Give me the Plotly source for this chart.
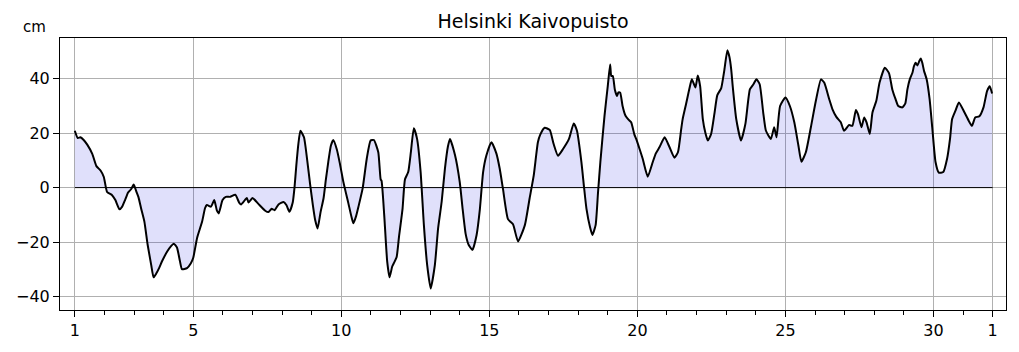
import plotly.graph_objects as go

# Time in days of the month (1 = first day 00:00, 32 = first day of next month)
days = [1.00, 1.10, 1.19, 1.30, 1.42, 1.59, 1.73, 1.87, 1.98, 2.09, 2.26, 2.37, 2.51, 2.60, 2.70, 2.80, 2.90, 2.99,
        3.08, 3.15, 3.24, 3.35, 3.46, 3.58, 3.66, 3.75, 3.85, 3.95, 4.12, 4.25, 4.34, 4.45, 4.55, 4.62, 4.79, 4.92,
        5.00, 5.13, 5.30, 5.40, 5.46, 5.60, 5.71, 5.80, 5.86, 5.99, 6.10, 6.25, 6.42, 6.55, 6.62, 6.75, 6.81, 6.87,
        7.00, 7.20, 7.43, 7.54, 7.65, 7.75, 7.88, 8.05, 8.15, 8.25, 8.36, 8.42, 8.48, 8.55, 8.62, 8.74, 8.85, 8.95,
        9.04, 9.12, 9.20, 9.30, 9.40, 9.48, 9.56, 9.65, 9.73, 9.85, 9.95, 10.07, 10.24, 10.35, 10.41, 10.50, 10.58,
        10.72, 10.86, 10.99, 11.10, 11.25, 11.33, 11.36, 11.45, 11.55, 11.63, 11.72, 11.78, 11.87, 11.95, 12.07,
        12.15, 12.26, 12.35, 12.45, 12.56, 12.68, 12.79, 12.90, 13.02, 13.16, 13.27, 13.39, 13.50, 13.60, 13.67,
        13.84, 14.00, 14.10, 14.20, 14.30, 14.43, 14.57, 14.68, 14.79, 14.90, 15.07, 15.24, 15.35, 15.46, 15.63,
        15.80, 15.97, 16.20, 16.36, 16.50, 16.64, 16.72, 16.87, 17.04, 17.17, 17.32, 17.49, 17.69, 17.85, 17.96,
        18.11, 18.20, 18.28, 18.40, 18.48, 18.59, 18.67, 18.75, 18.89, 19.00, 19.08, 19.12, 19.17, 19.24, 19.31,
        19.36, 19.42, 19.50, 19.60, 19.70, 19.79, 19.90, 19.96, 20.08, 20.18, 20.35, 20.52, 20.62, 20.75, 20.92,
        21.08, 21.25, 21.37, 21.48, 21.53, 21.65, 21.76, 21.84, 21.96, 22.04, 22.12, 22.21, 22.30, 22.38, 22.49,
        22.60, 22.70, 22.83, 22.94, 23.04, 23.11, 23.17, 23.22, 23.34, 23.50, 23.65, 23.80, 23.92, 24.02, 24.13,
        24.25, 24.34, 24.51, 24.62, 24.70, 24.82, 25.00, 25.15, 25.30, 25.44, 25.54, 25.69, 25.86, 26.03, 26.20,
        26.31, 26.48, 26.59, 26.72, 26.87, 26.98, 27.15, 27.26, 27.38, 27.45, 27.57, 27.66, 27.74, 27.85, 27.94,
        28.07, 28.18, 28.36, 28.50, 28.61, 28.72, 28.81, 28.95, 29.05, 29.12, 29.20, 29.29, 29.34, 29.40, 29.46,
        29.52, 29.57, 29.62, 29.68, 29.77, 29.87, 29.96, 30.07, 30.18, 30.33, 30.46, 30.56, 30.63, 30.74, 30.86,
        31.05, 31.19, 31.30, 31.41, 31.55, 31.69, 31.81, 31.90, 31.98]

# Sea level (cm)
sea_level = [20.9, 18.2, 18.5, 17.5, 15.8, 12.4, 7.9, 6.3, 3.9, -1.6, -2.8, -4.6, -8.0, -7.0, -4.5, -1.8, -0.6, 1.1,
             -1.5, -3.5, -7.7, -12.5, -21.0, -28.4, -33.0, -31.6, -29.5, -27.0, -23.5, -21.5, -20.6, -22.0, -27.0,
             -30.0, -29.6, -27.8, -25.8, -18.5, -12.5, -7.5, -6.4, -7.0, -4.6, -8.5, -9.5, -4.6, -3.4, -3.4, -2.6,
             -5.5, -6.2, -4.5, -3.8, -5.5, -3.8, -6.0, -8.5, -9.0, -7.8, -8.3, -6.2, -5.3, -6.5, -8.9, -5.5, 0.0,
             8.0, 16.0, 20.9, 18.5, 10.0, 1.0, -6.4, -12.0, -15.0, -9.0, -4.0, 3.0, 9.4, 15.5, 17.5, 14.0, 9.0, 2.1,
             -5.8, -11.0, -13.1, -10.5, -7.0, -0.4, 10.6, 17.3, 17.5, 13.0, 3.0, 2.5, -10.1, -27.1, -33.0, -29.0,
             -27.7, -25.5, -18.0, -7.7, 3.0, 5.7, 13.0, 21.8, 17.9, 5.7, -13.8, -28.4, -37.1, -28.5, -15.0, -5.2,
             6.9, 15.0, 17.9, 12.0, 2.1, -8.0, -17.0, -21.0, -22.9, -17.4, -8.0, 5.7, 11.8, 16.7, 12.5, 7.0, -0.4,
             -11.6, -13.5, -19.8, -13.8, -4.0, 4.5, 16.7, 19.5, 22.0, 21.2, 16.1, 11.7, 14.2, 17.9, 23.6, 20.9,
             9.4, 0.0, -7.7, -14.5, -17.4, -13.8, -2.0, 9.4, 26.4, 37.3, 45.3, 41.0, 41.0, 36.0, 33.7, 35.0, 34.9,
             30.0, 26.4, 25.0, 24.0, 19.5, 17.9, 14.0, 10.6, 4.0, 9.4, 12.5, 14.9, 18.5, 15.0, 11.0, 13.0, 21.5,
             25.2, 31.0, 36.5, 39.8, 36.8, 41.2, 37.3, 25.2, 20.0, 17.3, 19.7, 27.0, 34.0, 36.5, 43.4, 50.5, 48.0,
             43.4, 37.3, 25.2, 17.3, 23.5, 36.1, 38.0, 39.8, 38.0, 27.6, 21.0, 17.9, 22.2, 18.5, 30.0, 33.1, 30.0,
             24.0, 15.4, 9.5, 13.0, 22.2, 32.0, 39.8, 38.6, 32.5, 28.8, 26.0, 24.0, 20.9, 23.0, 22.7, 28.5, 27.0,
             22.2, 25.8, 24.0, 19.7, 27.6, 31.9, 38.6, 44.1, 42.0, 36.1, 32.5, 30.0, 29.5, 31.0, 36.1, 39.8, 42.2,
             44.6, 45.9, 44.9, 46.5, 47.5, 46.0, 43.0, 39.8, 32.5, 22.0, 9.4, 5.5, 5.7, 10.6, 18.0, 25.2, 28.2,
             31.3, 27.6, 24.6, 22.7, 25.8, 26.2, 29.5, 35.5, 37.3, 34.6]

x_tick_vals = [1, 5, 10, 15, 20, 25, 30, 32]
x_tick_text = ["1", "5", "10", "15", "20", "25", "30", "1"]
y_tick_vals = [-40, -20, 0, 20, 40]
y_tick_text = ["\u221240", "\u221220", "0", "20", "40"]

title_text = "Helsinki Kaivopuisto"
unit_text = "cm"

fig = go.Figure()
fig.add_trace(go.Scatter(x=days, y=sea_level, mode="lines",
                         line=dict(color="black", width=2, shape="spline", smoothing=0.5),
                         fill="tozeroy", fillcolor="rgba(0,0,220,0.12)",
                         hoverinfo="skip", showlegend=False))
fig.add_trace(go.Scatter(x=[days[0], 32], y=[0, 0], mode="lines",
                         line=dict(color="black", width=1),
                         hoverinfo="skip", showlegend=False))

fig.update_layout(
    width=1019, height=352,
    margin=dict(l=60, r=12, t=38, b=40),
    paper_bgcolor="white", plot_bgcolor="white",
    font=dict(family="DejaVu Sans", size=16, color="black"),
    title=dict(text=title_text, x=0.5, xref="paper", xanchor="center",
               y=1 - 21.5 / 352, yref="container", yanchor="middle",
               font=dict(size=19, color="black")),
    annotations=[dict(text=unit_text, xref="paper", yref="paper",
                      x=-0.027, y=1.04, xanchor="center", yanchor="middle",
                      showarrow=False, font=dict(size=15, color="black"))],
)

fig.update_xaxes(range=[0.5, 32.45], tickmode="array", tickvals=x_tick_vals, ticktext=x_tick_text,
                 showgrid=True, gridcolor="#b0b0b0", gridwidth=1,
                 ticks="outside", ticklen=6, tickcolor="black", tickwidth=1,
                 showline=True, linecolor="black", linewidth=1, mirror=True,
                 zeroline=False,
                 minor=dict(tickmode="linear", tick0=1, dtick=1, ticks="outside", ticklen=3.5,
                            tickcolor="black", showgrid=False))
fig.update_yaxes(range=[-45, 55], tickmode="array", tickvals=y_tick_vals, ticktext=y_tick_text,
                 showgrid=True, gridcolor="#b0b0b0", gridwidth=1,
                 ticks="outside", ticklen=6, tickcolor="black", tickwidth=1,
                 showline=True, linecolor="black", linewidth=1, mirror=True,
                 zeroline=False)

fig.write_html("out.html")
